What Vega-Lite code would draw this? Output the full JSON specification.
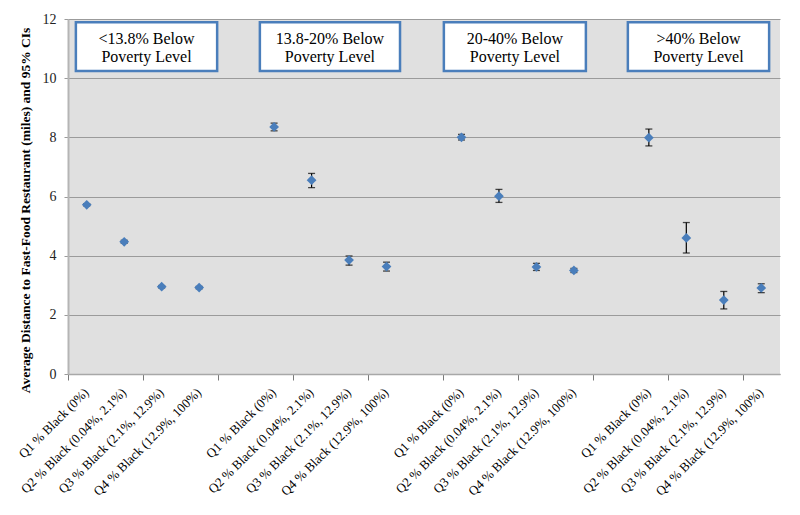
{
  "$schema": "https://vega.github.io/schema/vega-lite/v6.json",
  "autosize": "none",
  "width": 712,
  "height": 355,
  "padding": {"left": 68, "top": 19, "right": 20, "bottom": 141},
  "background": "white",
  "config": {
    "view": {"fill": "#e0e0e0", "stroke": null},
    "font": "Liberation Serif"
  },
  "datasets": {
    "boxes": [
      {"x0": 0.21, "x1": 3.98, "top": 11.89, "bottom": 10.24, "xc": 2.095, "yc": 11.05, "t": "<13.8% Below\nPoverty Level"},
      {"x0": 5.12, "x1": 8.86, "top": 11.89, "bottom": 10.24, "xc": 6.99, "yc": 11.05, "t": "13.8-20% Below\nPoverty Level"},
      {"x0": 10.03, "x1": 13.82, "top": 11.89, "bottom": 10.24, "xc": 11.925, "yc": 11.05, "t": "20-40% Below\nPoverty Level"},
      {"x0": 14.94, "x1": 18.71, "top": 11.89, "bottom": 10.24, "xc": 16.825, "yc": 11.05, "t": ">40% Below\nPoverty Level"}
    ],
    "pts": [
      {"cat": "1|Q1 % Black (0%)", "mean": 5.72, "lo": 5.68, "hi": 5.76},
      {"cat": "1|Q2 % Black (0.04%, 2.1%)", "mean": 4.47, "lo": 4.42, "hi": 4.52},
      {"cat": "1|Q3 % Black (2.1%, 12.9%)", "mean": 2.95, "lo": 2.91, "hi": 2.99},
      {"cat": "1|Q4 % Black (12.9%, 100%)", "mean": 2.92, "lo": 2.88, "hi": 2.96},
      {"cat": "2|Q1 % Black (0%)", "mean": 8.35, "lo": 8.22, "hi": 8.48},
      {"cat": "2|Q2 % Black (0.04%, 2.1%)", "mean": 6.55, "lo": 6.30, "hi": 6.78},
      {"cat": "2|Q3 % Black (2.1%, 12.9%)", "mean": 3.85, "lo": 3.68, "hi": 3.99},
      {"cat": "2|Q4 % Black (12.9%, 100%)", "mean": 3.63, "lo": 3.48, "hi": 3.78},
      {"cat": "3|Q1 % Black (0%)", "mean": 8.0, "lo": 7.91, "hi": 8.1},
      {"cat": "3|Q2 % Black (0.04%, 2.1%)", "mean": 6.01, "lo": 5.8, "hi": 6.24},
      {"cat": "3|Q3 % Black (2.1%, 12.9%)", "mean": 3.62, "lo": 3.5, "hi": 3.74},
      {"cat": "3|Q4 % Black (12.9%, 100%)", "mean": 3.5, "lo": 3.43, "hi": 3.57},
      {"cat": "4|Q1 % Black (0%)", "mean": 7.99, "lo": 7.71, "hi": 8.28},
      {"cat": "4|Q2 % Black (0.04%, 2.1%)", "mean": 4.6, "lo": 4.09, "hi": 5.12},
      {"cat": "4|Q3 % Black (2.1%, 12.9%)", "mean": 2.5, "lo": 2.2, "hi": 2.79},
      {"cat": "4|Q4 % Black (12.9%, 100%)", "mean": 2.91, "lo": 2.75, "hi": 3.05}
    ]
  },
  "layer": [
    {
      "data": {"name": "boxes"},
      "layer": [
        {
          "mark": {"type": "rect", "fill": "white", "stroke": "#4a7ebb", "strokeWidth": 2.5},
          "encoding": {
            "x": {"field": "x0", "type": "quantitative", "scale": {"domain": [0, 19], "nice": false, "zero": false},
                  "axis": {"orient": "bottom", "values": [0,1,2,3,4,5,6,7,8,9,10,11,12,13,14,15,16,17,18,19], "labels": false, "labelOverlap": false, "grid": false, "title": null, "ticks": true, "tickSize": 6, "tickWidth": 1, "tickColor": "#7a7a7a", "domainColor": "#a8a8a8", "domainWidth": 1.5}},
            "x2": {"field": "x1"},
            "y": {"field": "top", "type": "quantitative", "scale": {"domain": [0, 12], "nice": false},
                  "axis": {"values": [0,2,4,6,8,10,12], "title": "Average Distance to Fast-Food Restaurant (miles) and 95% CIs", "titleFont": "Liberation Serif", "titleFontWeight": "bold", "titleFontSize": 13.5, "titleColor": "black", "titleY": 191, "titleX": -36, "grid": true, "gridColor": "#9b9b9b", "gridWidth": 1, "domainColor": "#b5b5b5", "domainWidth": 2, "tickColor": "#9a9a9a", "tickSize": 4, "labelFont": "Liberation Serif", "labelFontSize": 14, "labelColor": "#222", "labelPadding": 8}},
            "y2": {"field": "bottom"}
          }
        },
        {
          "mark": {"type": "text", "font": "Liberation Serif", "fontSize": 16, "lineBreak": "\n", "lineHeight": 18, "baseline": "middle", "align": "center", "color": "black", "dy": -8},
          "encoding": {
            "x": {"field": "xc", "type": "quantitative"},
            "y": {"field": "yc", "type": "quantitative"},
            "text": {"field": "t"}
          }
        }
      ]
    },
    {
      "data": {"name": "pts"},
      "encoding": {
        "x": {"field": "cat", "type": "nominal",
              "scale": {"type": "band", "paddingInner": 0, "paddingOuter": 0,
                        "domain": ["1|Q1 % Black (0%)", "1|Q2 % Black (0.04%, 2.1%)", "1|Q3 % Black (2.1%, 12.9%)", "1|Q4 % Black (12.9%, 100%)", "g1",
                                   "2|Q1 % Black (0%)", "2|Q2 % Black (0.04%, 2.1%)", "2|Q3 % Black (2.1%, 12.9%)", "2|Q4 % Black (12.9%, 100%)", "g2",
                                   "3|Q1 % Black (0%)", "3|Q2 % Black (0.04%, 2.1%)", "3|Q3 % Black (2.1%, 12.9%)", "3|Q4 % Black (12.9%, 100%)", "g3",
                                   "4|Q1 % Black (0%)", "4|Q2 % Black (0.04%, 2.1%)", "4|Q3 % Black (2.1%, 12.9%)", "4|Q4 % Black (12.9%, 100%)"]},
              "axis": {"orient": "bottom", "title": null, "ticks": false, "domain": false, "grid": false, "labelAngle": -45, "labelAlign": "right", "labelBaseline": "middle", "labelFont": "Liberation Serif", "labelFontSize": 13, "labelColor": "black", "labelPadding": 16, "labelLimit": 300, "labelOverlap": false,
                       "labelExpr": "indexof(datum.value, '|') >= 0 ? split(datum.value, '|')[1] : ''"}}
      },
      "layer": [
        {
          "mark": {"type": "rule", "color": "black", "strokeWidth": 1.2},
          "encoding": {
            "y": {"field": "lo", "type": "quantitative"},
            "y2": {"field": "hi"}
          }
        },
        {
          "mark": {"type": "tick", "color": "black", "size": 7, "thickness": 1.3},
          "encoding": {"y": {"field": "lo", "type": "quantitative"}}
        },
        {
          "mark": {"type": "tick", "color": "black", "size": 7, "thickness": 1.3},
          "encoding": {"y": {"field": "hi", "type": "quantitative"}}
        },
        {
          "mark": {"type": "point", "shape": "diamond", "filled": true, "size": 95, "color": "#4a7ebb", "opacity": 1},
          "encoding": {"y": {"field": "mean", "type": "quantitative",
                  "axis": {"values": [0,2,4,6,8,10,12], "title": "Average Distance to Fast-Food Restaurant (miles) and 95% CIs", "titleFont": "Liberation Serif", "titleFontWeight": "bold", "titleFontSize": 13.5, "titleColor": "black", "titleY": 191, "titleX": -36, "grid": true, "gridColor": "#9b9b9b", "gridWidth": 1, "domainColor": "#b5b5b5", "domainWidth": 2, "tickColor": "#9a9a9a", "tickSize": 4, "labelFont": "Liberation Serif", "labelFontSize": 14, "labelColor": "#222", "labelPadding": 8}}}
        }
      ]
    }
  ],
  "resolve": {"scale": {"x": "independent"}}
}
